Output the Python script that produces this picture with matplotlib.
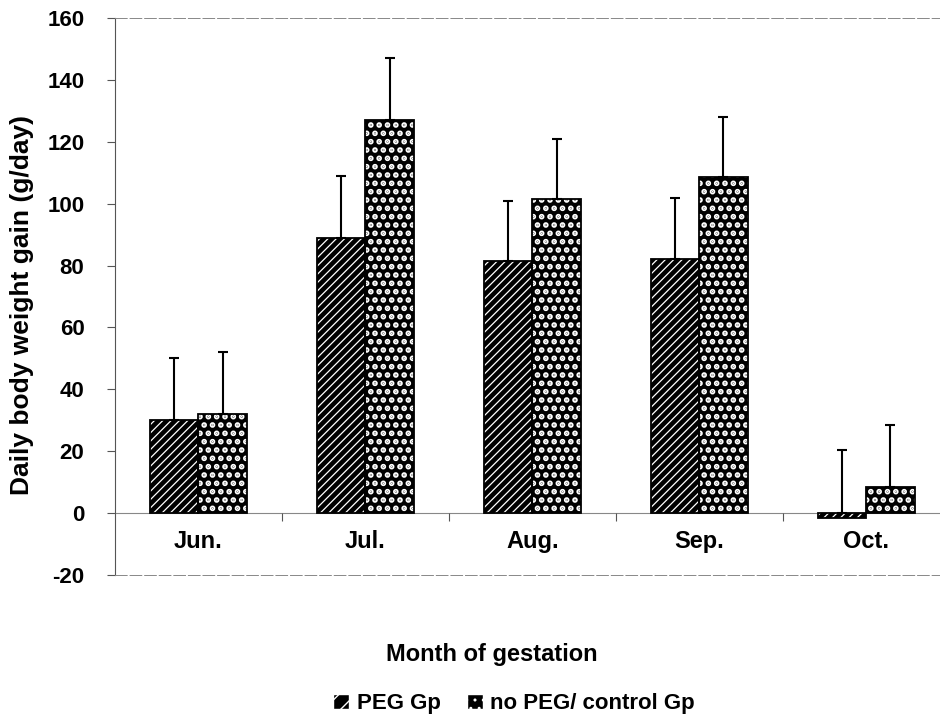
import numpy as np
import matplotlib
matplotlib.use("Agg")
import matplotlib.pyplot as plt
from matplotlib.patches import Patch

plt.rcParams.update({
    "font.family": ["Liberation Sans", "DejaVu Sans"],
    "font.weight": "bold",
})

months = ["Jun.", "Jul.", "Aug.", "Sep.", "Oct."]
peg = [30, 89, 81.5, 82, -1.5]
peg_err = [20, 20, 19.5, 20, 20.5]
control = [32, 127, 101.5, 108.5, 8.5]
control_err = [20, 20, 19.5, 19.5, 20]

x = np.arange(len(months))
w = 0.29
PEG_HATCH, CTRL_HATCH = "////", ".."
PEG_LW, CTRL_LW = 0.9, 2.8


def hatch_lw(patches, lw):
    for p in patches:
        if hasattr(p, "set_hatch_linewidth"):
            p.set_hatch_linewidth(lw)


fig = plt.figure(figsize=(9.4, 7.22), dpi=100)
ax = fig.add_axes([0.1223, 0.2036, 0.888, 0.7714])

# hatch colour follows edgecolor, so draw fill+hatch first, outline on top
with plt.rc_context({"hatch.linewidth": PEG_LW}):
    b1 = ax.bar(x - w/2, peg, w, color="black", edgecolor="white", hatch=PEG_HATCH, lw=0, zorder=2)
hatch_lw(b1, PEG_LW)
with plt.rc_context({"hatch.linewidth": CTRL_LW}):
    b2 = ax.bar(x + w/2, control, w, color="black", edgecolor="white", hatch=CTRL_HATCH, lw=0, zorder=2)
hatch_lw(b2, CTRL_LW)
ax.bar(x - w/2, peg, w, fill=False, edgecolor="black", lw=1.3, zorder=3)
ax.bar(x + w/2, control, w, fill=False, edgecolor="black", lw=1.3, zorder=3)

tops_p = [max(v, 0) for v in peg]
ax.errorbar(x - w/2, tops_p, yerr=[np.zeros(len(x)), peg_err], fmt="none",
            ecolor="black", elinewidth=1.5, capsize=3.8, capthick=1.5, zorder=4)
ax.errorbar(x + w/2, control, yerr=[np.zeros(len(x)), control_err], fmt="none",
            ecolor="black", elinewidth=1.5, capsize=3.8, capthick=1.5, zorder=4)

ax.set_xlim(-0.5, len(months) - 0.5)
ax.set_ylim(-20, 160)
ax.set_yticks(np.arange(-20, 161, 20))
ax.set_yticklabels([str(v) for v in range(-20, 161, 20)])
ax.tick_params(axis="y", labelsize=16, length=6, width=0.8, color="#555555", pad=16)
ax.set_xticks([])

ax.spines["right"].set_visible(False)
for side in ["top", "bottom"]:
    ax.spines[side].set_color("#888888")
    ax.spines[side].set_linewidth(0.7)
    ax.spines[side].set_linestyle((0, (12, 3)))
ax.spines["left"].set_color("#555555")
ax.spines["left"].set_linewidth(0.8)

# zero line with group-boundary ticks
ax.axhline(0, color="#888888", lw=0.8, zorder=1)
ax.vlines(x[:-1] + 0.5, -2.5, 0, color="#555555", lw=0.8)

for xi, m in zip(x, months):
    ax.text(xi, -5.5, m, ha="center", va="top", fontsize=17, fontweight="bold")

ax.set_ylabel("Daily body weight gain (g/day)", fontsize=19, fontweight="bold")
ax.yaxis.set_label_coords(-0.097, 0.485)
fig.text(0.523, 0.093, "Month of gestation", ha="center", va="center",
         fontsize=17, fontweight="bold")

with plt.rc_context({"hatch.linewidth": 1.0}):
    handles = [Patch(facecolor="black", edgecolor="white", hatch="//", label="PEG Gp"),
               Patch(facecolor="black", edgecolor="white", hatch="..", label="no PEG/ control Gp")]
    leg = fig.legend(handles=handles, loc="center", bbox_to_anchor=(0.547, 0.025), ncol=2,
                     frameon=False, fontsize=16, handlelength=0.7, handleheight=0.7,
                     handletextpad=0.35, columnspacing=1.2)

fig.savefig("out.png", dpi=100)
